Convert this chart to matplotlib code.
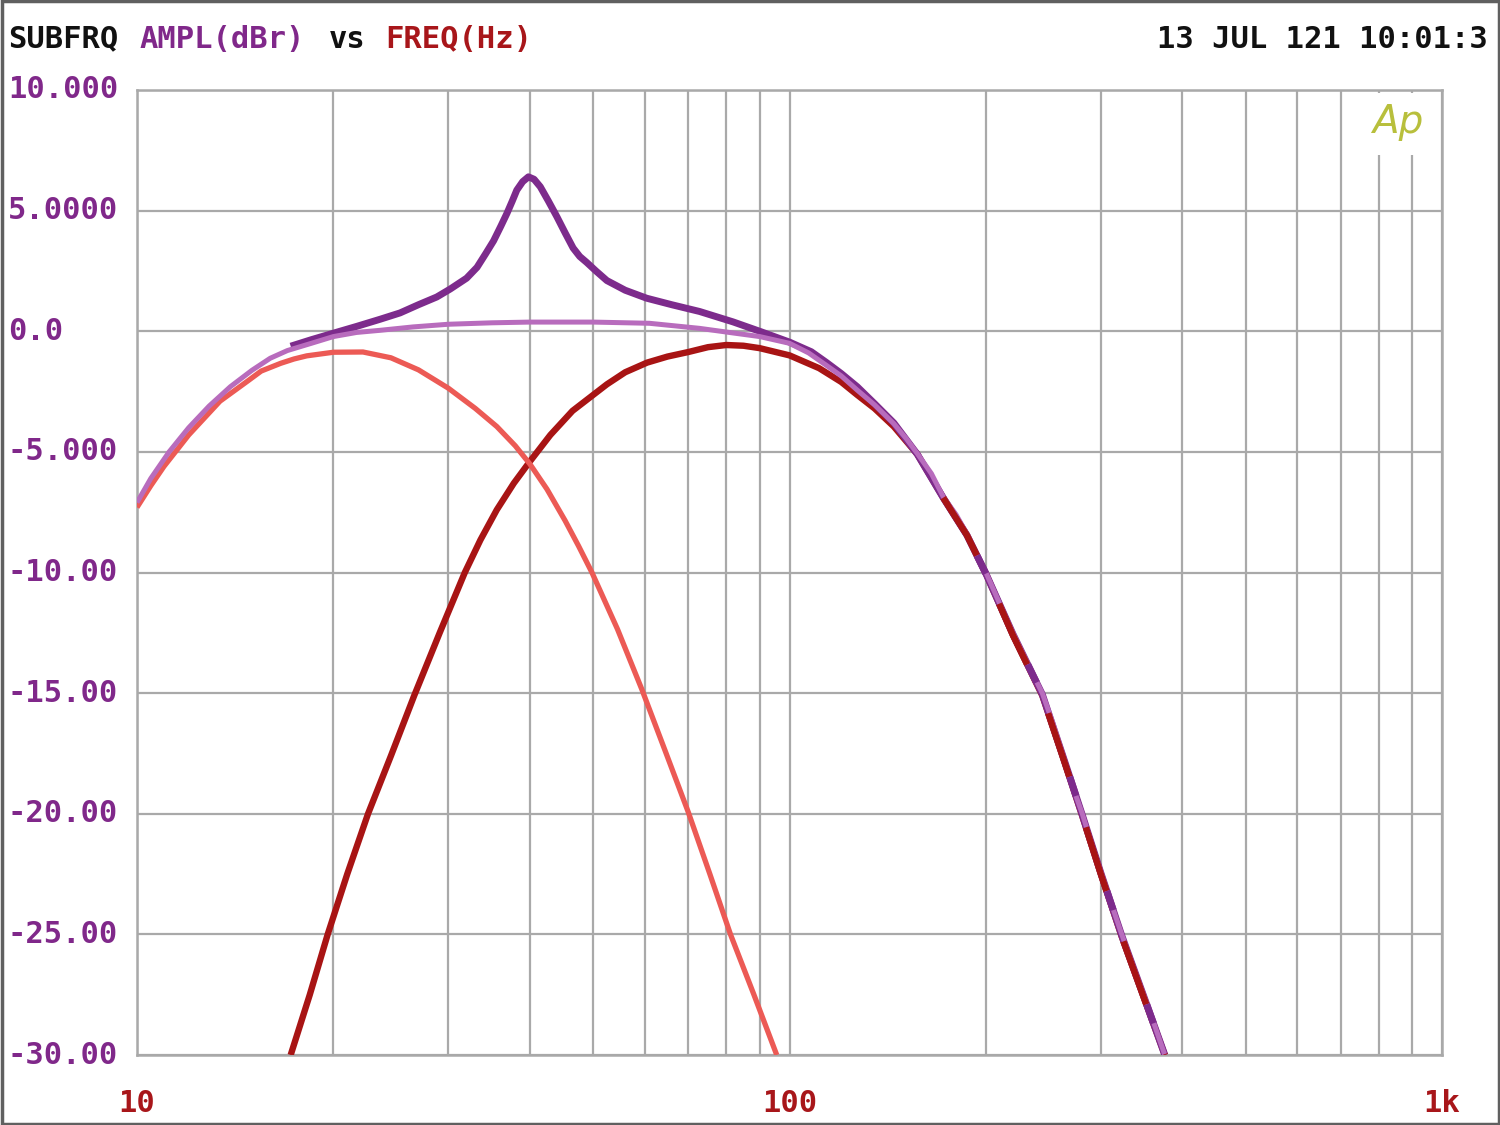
import matplotlib
matplotlib.use("Agg")
import matplotlib.pyplot as plt
import matplotlib.patches as patches
import matplotlib.transforms as mtransforms
import numpy as np

# ---- data (frequency in Hz, level in dBr) ----
# summed response (light purple)
sum_freq = [10, 10.5, 11.2, 12, 12.9, 13.9, 15, 16, 17, 18.5, 20, 21.7, 23.6,
            26.5, 30, 35, 40, 50, 61, 72.8, 81.9, 90, 100, 107, 113.7, 120,
            127, 135, 144.5, 151, 157, 165, 172, 180, 187, 193, 200, 210, 220,
            232, 244, 253, 262, 271, 281, 290, 300, 311, 323, 336, 350, 363, 376]
sum_db = [-7.1, -6.1, -5.0, -4.0, -3.1, -2.3, -1.62, -1.12, -0.8, -0.5, -0.22,
          -0.05, 0.04, 0.18, 0.29, 0.35, 0.38, 0.38, 0.33, 0.12, -0.07, -0.22,
          -0.5, -0.9, -1.4, -1.85, -2.44, -3.05, -3.83, -4.45, -5.07, -5.9,
          -6.86, -7.6, -8.4, -9.2, -10.0, -11.3, -12.5, -13.8, -15.0, -16.2,
          -17.5, -18.8, -20.0, -21.2, -22.4, -23.7, -25.0, -26.3, -27.6, -28.8,
          -30.0]

# resonant response (dark purple)
peak_freq = [17.2, 18.5, 20, 21.7, 23.6, 25.3, 27, 28.8, 30.2, 32, 33.2, 34.2,
             35.2, 36.1, 36.9, 37.6, 38.2, 39, 39.8, 40.6, 41.5, 42.7, 44.0,
             45.3, 46.6, 47.7, 48.9, 50.5, 52.5, 56, 60.4, 66, 72.8, 81.9, 90,
             100, 108, 114, 120, 127, 135, 144.5, 157, 172, 187, 200, 220, 244,
             262, 281, 300, 323, 350, 376]
peak_db = [-0.62, -0.35, -0.08, 0.2, 0.5, 0.76, 1.1, 1.42, 1.75, 2.2, 2.65,
           3.2, 3.75, 4.35, 4.89, 5.4, 5.85, 6.2, 6.4, 6.3, 5.99, 5.4, 4.75,
           4.08, 3.45, 3.1, 2.85, 2.5, 2.1, 1.7, 1.37, 1.1, 0.82, 0.39, 0.0,
           -0.45, -0.85, -1.3, -1.75, -2.3, -3.0, -3.8, -5.1, -6.9, -8.45,
           -10.05, -12.55, -15.05, -17.55, -20.05, -22.45, -25.05, -27.65, -30.0]

# low-pass branch (salmon)
low_freq = [10, 10.5, 11, 12, 13.4, 14.8, 15.5, 16.6, 17.4, 18.2, 20, 22.2,
            24.5, 27, 30, 33, 35.6, 38, 40, 42.5, 45.3, 47.5, 49.8, 54.5, 59.4,
            64.5, 70, 75.5, 81.2, 88.2, 95.6]
low_db = [-7.3, -6.4, -5.6, -4.3, -2.9, -2.05, -1.65, -1.33, -1.15, -1.02,
          -0.87, -0.86, -1.1, -1.6, -2.36, -3.2, -3.95, -4.75, -5.5, -6.55,
          -7.85, -8.9, -10.0, -12.35, -14.85, -17.4, -19.95, -22.5, -25.0,
          -27.5, -30.0]

# high-pass branch (dark red)
high_freq = [17.2, 18.4, 19.6, 21.0, 22.6, 24.5, 26.6, 29.1, 31.8, 33.6, 35.6,
             37.8, 40, 43, 46.5, 52.5, 56, 60.5, 65, 70, 75, 80, 85, 90, 100,
             111, 120, 127, 135, 144.5, 157, 172, 187, 200, 220, 244, 262, 281,
             300, 323, 350, 376]
high_db = [-30.0, -27.5, -25.0, -22.5, -20.0, -17.6, -15.1, -12.5, -10.0,
           -8.65, -7.4, -6.3, -5.4, -4.3, -3.3, -2.2, -1.7, -1.3, -1.05, -0.86,
           -0.66, -0.57, -0.6, -0.7, -1.0, -1.53, -2.1, -2.64, -3.2, -3.95,
           -5.1, -6.9, -8.45, -10.05, -12.6, -15.1, -17.6, -20.1, -22.5, -25.1,
           -27.7, -30.0]

y_ticks = [10, 5, 0, -5, -10, -15, -20, -25, -30]
y_labels = ["10.000", "5.0000", "0.0", "-5.000", "-10.00", "-15.00",
            "-20.00", "-25.00", "-30.00"]
x_ticks = [10, 100, 1000]
x_labels = ["10", "100", "1k"]

MONO = "DejaVu Sans Mono"
PURPLE_TXT = "#80288a"
RED_TXT = "#a8161a"
GRID = "#a9a9a9"
C_HIGH = "#a81414"
C_LOW = "#ec5a55"
C_PEAK = "#7d2b8c"
C_SUM = "#b86cbd"
TAIL_FROM = 172  # where the traces merge into one steep roll-off
CHAR_W = 18.85   # pixel pitch of the header's monospace characters

fig = plt.figure(figsize=(15, 11.25), dpi=100)
ax = fig.add_axes([137 / 1500, 1 - 1055 / 1125, 1305 / 1500, 965 / 1125])

kw = dict(solid_capstyle="butt", solid_joinstyle="round")
ax.plot(high_freq, high_db, color=C_HIGH, lw=4.6, zorder=3, **kw)
ax.plot(low_freq, low_db, color=C_LOW, lw=3.8, zorder=4, **kw)
ax.plot(peak_freq, peak_db, color=C_PEAK, lw=5.0, zorder=5, **kw)
ax.plot(sum_freq, sum_db, color=C_SUM, lw=3.6, zorder=6, **kw)

# merged tail: the overlapping traces show through in patches
hf, hd = np.array(high_freq), np.array(high_db)
pf, pd_ = np.array(peak_freq), np.array(peak_db)
ax.plot(hf[hf >= TAIL_FROM], hd[hf >= TAIL_FROM], color=C_HIGH, lw=4.6,
        zorder=7, ls=(0, (10.5, 8.3)), dash_capstyle="butt")
ax.plot(pf[pf >= TAIL_FROM], pd_[pf >= TAIL_FROM], color=C_PEAK, lw=5.0,
        zorder=7, ls=(7.64, (2.9, 14.4)), dash_capstyle="butt")

ax.set_xscale("log")
ax.set_xlim(10, 1000)
ax.set_ylim(-30, 10)
ax.set_yticks(y_ticks)
ax.set_xticks(x_ticks)
ax.set_xticks([f * d for d in (10, 100) for f in range(2, 10)], minor=True)
ax.grid(True, which="both", color=GRID, lw=1.6)
ax.tick_params(which="both", length=0, labelleft=False, labelbottom=False)
for sp in ax.spines.values():
    sp.set_color(GRID)
    sp.set_linewidth(1.8)

# white patch behind the logo (grid lines stop there)
ax.add_patch(patches.Rectangle((0.937, 0.9326), 0.056, 0.064, transform=ax.transAxes,
                               facecolor="white", edgecolor="none", zorder=2))
ax.text(0.966, 0.967, "Ap", transform=ax.transAxes, ha="center", va="center",
        fontsize=28, style="italic", color="#b8bf3c", family="DejaVu Sans",
        fontweight="light", zorder=8)

# y tick labels, left aligned at the figure edge
ytr = mtransforms.blended_transform_factory(fig.transFigure, ax.transData)
for v, lab in zip(y_ticks, y_labels):
    ax.text(8 / 1500, v, lab, transform=ytr, ha="left", va="center",
            fontsize=22, family=MONO, fontweight="bold", color=PURPLE_TXT)

xtr = mtransforms.blended_transform_factory(ax.transData, fig.transFigure)
for v, lab in zip(x_ticks, x_labels):
    ax.text(v, 1 - 1103 / 1125, lab, transform=xtr, ha="center", va="center",
            fontsize=22, family=MONO, fontweight="bold", color=RED_TXT)

# header: coloured words placed on the character grid of the analyzer screen
title_y = 1 - 39 / 1125
pieces = [("SUBFRQ", 0, "#111111"), ("AMPL(dBr)", 7, PURPLE_TXT),
          ("vs", 17, "#111111"), ("FREQ(Hz)", 20, RED_TXT)]
for word, col0, col in pieces:
    fig.text((8 + col0 * CHAR_W) / 1500, title_y, word, ha="left", va="center",
             fontsize=22, family=MONO, fontweight="bold", color=col)
fig.text(1488 / 1500, title_y, "13 JUL 121 10:01:3", ha="right", va="center",
         fontsize=22, family=MONO, fontweight="bold", color="#111111")

# outer frame of the screenshot
fig.add_artist(patches.Rectangle((0.001, 0.001), 0.998, 0.998, transform=fig.transFigure,
                                 facecolor="none", edgecolor="#606060", lw=2.5))

fig.savefig("out.png", dpi=100)
plt.close(fig)
